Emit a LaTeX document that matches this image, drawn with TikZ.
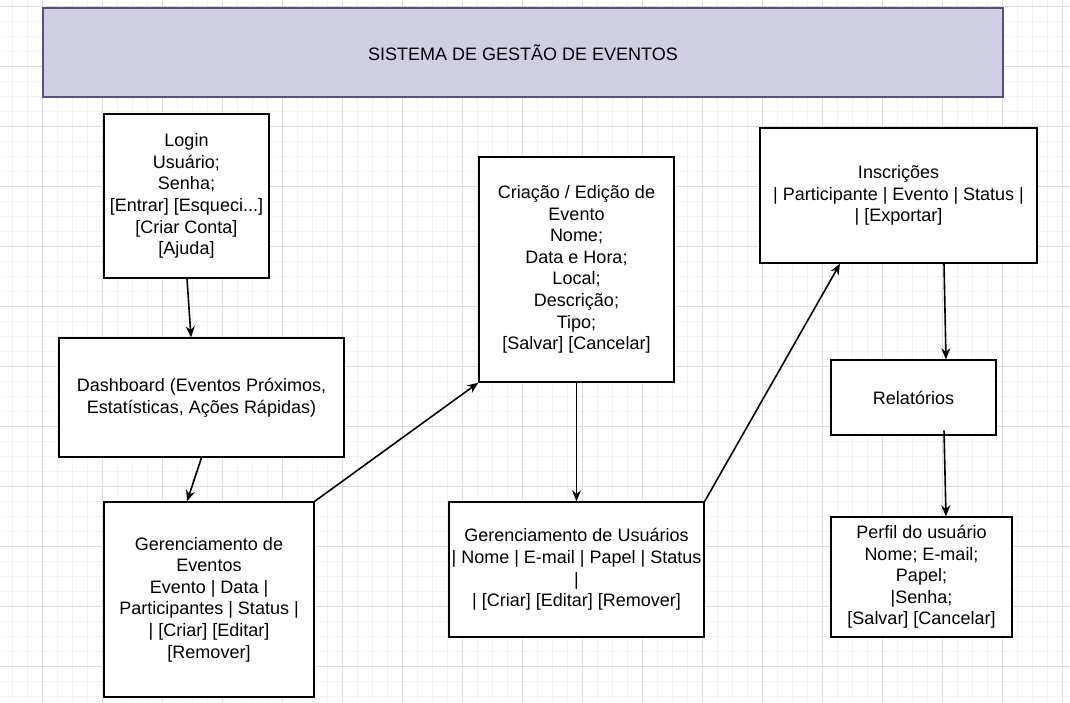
\documentclass[tikz,border=0pt]{standalone}
\usepackage{fontspec}
\setmainfont{Liberation Sans}
\usetikzlibrary{arrows.meta}
\definecolor{gridminor}{HTML}{F3F3F3}
\definecolor{gridmajor}{HTML}{DDDDDD}
\definecolor{titlefill}{HTML}{D0CEE2}
\definecolor{titledraw}{HTML}{56517E}
\begin{document}
\begin{tikzpicture}[x=1pt,y=-1pt,
  minorline/.style={draw=gridminor,line width=1pt},
  majorline/.style={draw=gridmajor,line width=1pt},
  box/.style={draw=black,line width=1.4pt,fill=white,align=center,inner sep=0pt,
    font=\fontsize{18}{21.6}\selectfont},
  titlebox/.style={box,draw=titledraw,fill=titlefill},
  conn/.style={draw=black,line width=1.6pt,-{Stealth[length=11pt,width=9pt]}}]
\useasboundingbox (0,0) rectangle (1070,702);
\fill[white] (0,0) rectangle (1070,702);
% grid
\foreach \x in {-3,12,...,1070} \draw[minorline] (\x,0) -- (\x,702);
\foreach \y in {6,21,...,702} \draw[minorline] (0,\y) -- (1070,\y);
\foreach \x in {42,102,...,1070} \draw[majorline] (\x,0) -- (\x,702);
\foreach \y in {6,66,...,702} \draw[majorline] (0,\y) -- (1070,\y);
% nodes
\node[titlebox,minimum width=960pt,minimum height=89pt] (title) at (523,52.5) {SISTEMA DE GESTÃO DE EVENTOS};
\node[box,minimum width=165pt,minimum height=164pt] (login) at (186.5,196) {Login\\Usuário;\\Senha;\\{[Entrar] [Esqueci...]}\\{[Criar Conta]}\\{[Ajuda]}};
\node[box,minimum width=285pt,minimum height=119pt] (dash) at (201.5,397.5) {Dashboard (Eventos Próximos,\\Estatísticas, Ações Rápidas)};
\node[box,minimum width=210pt,minimum height=195pt] (gerev) at (209,599.5) {Gerenciamento de\\Eventos\\Evento | Data |\\Participantes | Status |\\{| [Criar] [Editar]}\\{[Remover]}};
\node[box,minimum width=195pt,minimum height=225pt] (cria) at (576.5,269.5) {Criação / Edição de\\Evento\\Nome;\\Data e Hora;\\Local;\\Descrição;\\Tipo;\\{[Salvar] [Cancelar]}};
\node[box,minimum width=255pt,minimum height=135pt] (usr) at (576.5,569.5) {Gerenciamento de Usuários\\| Nome | E-mail | Papel | Status\\|\\{| [Criar] [Editar] [Remover]}};
\node[box,minimum width=277pt,minimum height=135pt] (insc) at (898.5,195.5) {Inscrições\\| Participante | Evento | Status |\\{| [Exportar]}};
\node[box,minimum width=165pt,minimum height=75pt] (rel) at (913.5,397.5) {Relatórios};
\node[box,minimum width=181pt,minimum height=120pt] (perf) at (921.5,577) {Perfil do usuário\\Nome; E-mail;\\Papel;\\|Senha;\\{[Salvar] [Cancelar]}};
% connectors
\draw[conn] ([xshift=0.5pt]login.south) -- ([xshift=-10.5pt]dash.north);
\draw[conn] (dash.south) -- ([xshift=-22pt]gerev.north);
\draw[conn] (gerev.north east) -- (cria.south west);
\draw[conn] (cria.south) -- (usr.north);
\draw[conn] (usr.north east) -- ([xshift=-58.5pt]insc.south);
\draw[conn] ([xshift=45.5pt]insc.south) -- ([xshift=32.5pt]rel.north);
\draw[conn] ([xshift=30.5pt,yshift=5pt]rel.south) -- ([xshift=24.5pt]perf.north);
\end{tikzpicture}
\end{document}
